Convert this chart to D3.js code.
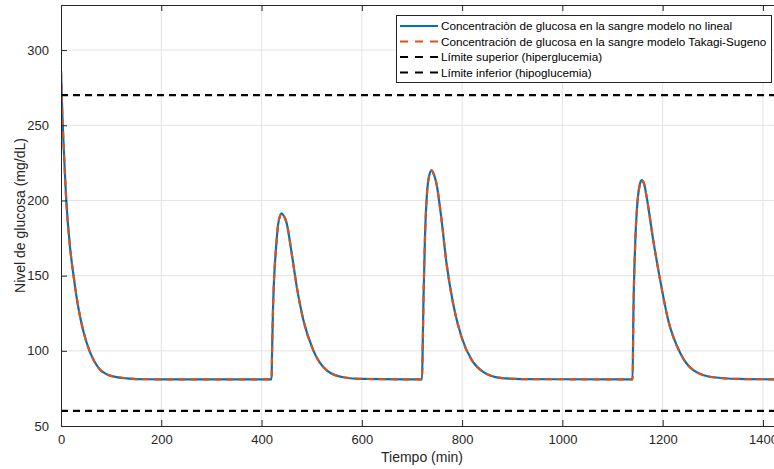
<!DOCTYPE html>
<html>
<head>
<meta charset="utf-8">
<script src="https://cdn.jsdelivr.net/npm/d3@7"></script>
<style>
  html, body { margin: 0; padding: 0; background: #fff; }
  svg { display: block; font-family: "Liberation Sans", Arial, Helvetica, sans-serif; }
</style>
</head>
<body>
<div id="chart"></div>
<script>
// --- data ---
const timeMin = [
  0, 3, 6, 10, 18, 25, 35, 45, 58, 74, 98, 130, 170, 250, 420,
  421, 423, 425, 429, 433, 437, 440, 444, 450, 460, 470, 483, 503, 530, 563, 600, 720,
  721.5, 723, 726, 730, 734, 739, 744, 749, 759, 769, 782, 799, 819, 842, 876, 920, 1140,
  1141.5, 1145, 1150, 1154, 1158, 1163, 1168, 1181, 1195, 1211, 1235, 1261, 1301, 1350, 1440
];

const glucoseNonlinear = [
  286, 254, 231, 203, 169, 150, 128, 112.5, 99, 89, 83.5, 81.7, 81.1, 81, 81,
  100, 130, 148, 169, 184, 190, 191.5, 190, 185, 165, 143, 121, 100.5, 87, 82.4, 81.3, 81,
  105, 135, 176, 205, 216, 220, 217, 211, 187, 158, 131.5, 109, 94, 86, 82, 81.2, 81,
  122, 169, 200, 210, 213.5, 211, 202.5, 174, 147, 120.5, 98.5, 87.2, 82.4, 81.3, 81
];

// Takagi-Sugeno model overlaps the nonlinear one at this resolution
const glucoseTakagiSugeno = [
  286, 254, 231, 203, 169, 150, 128, 112.5, 99, 89, 83.5, 81.7, 81.1, 81, 81,
  100, 130, 148, 169, 184, 190, 191.5, 190, 185, 165, 143, 121, 100.5, 87, 82.4, 81.3, 81,
  105, 135, 176, 205, 216, 220, 217, 211, 187, 158, 131.5, 109, 94, 86, 82, 81.2, 81,
  122, 169, 200, 210, 213.5, 211, 202.5, 174, 147, 120.5, 98.5, 87.2, 82.4, 81.3, 81
];

const upperLimit = 270; // hiperglucemia
const lowerLimit = 60;  // hipoglucemia

const xTicks = [0, 200, 400, 600, 800, 1000, 1200, 1400];
const yTicks = [50, 100, 150, 200, 250, 300];

const legendLabels = [
  "Concentraciòn de glucosa en la sangre modelo no lineal",
  "Concentración de glucosa en la sangre modelo Takagi-Sugeno",
  "Límite superior (hiperglucemia)",
  "Límite inferior (hipoglucemia)"
];

// --- layout ---
const W = 774, H = 469;
const plot = { left: 61, top: 5, right: 783, bottom: 426 }; // right edge falls outside the image

const COLORS = {
  nonlinear: "#0072BD",
  ts: "#D95319",
  limit: "#000000",
  axis: "#262626",
  grid: "#e3e3e3",
};

const svg = d3.select("#chart").append("svg")
  .attr("width", W)
  .attr("height", H);

const x = d3.scaleLinear().domain([0, 1440]).range([plot.left, plot.right]);
const y = d3.scaleLinear().domain([50, 330]).range([plot.bottom, plot.top]);

svg.append("clipPath").attr("id", "plot-clip")
  .append("rect")
  .attr("x", plot.left)
  .attr("y", plot.top)
  .attr("width", plot.right - plot.left)
  .attr("height", plot.bottom - plot.top);

// grid
const grid = svg.append("g").attr("class", "grid");
grid.selectAll("line.gx")
  .data(xTicks.filter((d) => d > 0))
  .join("line")
  .attr("x1", (d) => x(d)).attr("x2", (d) => x(d))
  .attr("y1", plot.top).attr("y2", plot.bottom)
  .attr("stroke", COLORS.grid).attr("stroke-width", 1);
grid.selectAll("line.gy")
  .data(yTicks.filter((d) => d > 50))
  .join("line")
  .attr("x1", plot.left).attr("x2", plot.right)
  .attr("y1", (d) => y(d)).attr("y2", (d) => y(d))
  .attr("stroke", COLORS.grid).attr("stroke-width", 1);

// --- series ---
const series = svg.append("g").attr("clip-path", "url(#plot-clip)");
const pts = (vals) => timeMin.map((t, i) => [t, vals[i]]);
const line = d3.line()
  .x((d) => x(d[0]))
  .y((d) => y(d[1]))
  .curve(d3.curveMonotoneX);

series.append("path")
  .datum(pts(glucoseNonlinear))
  .attr("d", line)
  .attr("fill", "none")
  .attr("stroke", COLORS.nonlinear)
  .attr("stroke-width", 2.2);

series.append("path")
  .datum(pts(glucoseTakagiSugeno))
  .attr("d", line)
  .attr("fill", "none")
  .attr("stroke", COLORS.ts)
  .attr("stroke-width", 2.2)
  .attr("stroke-dasharray", "7,5");

for (const lim of [upperLimit, lowerLimit]) {
  series.append("line")
    .attr("x1", x(0)).attr("x2", x(1440))
    .attr("y1", y(lim)).attr("y2", y(lim))
    .attr("stroke", COLORS.limit)
    .attr("stroke-width", 2.2)
    .attr("stroke-dasharray", "7,5");
}

// --- axes (MATLAB style: ticks inward) ---
const styleAxis = (sel) => {
  sel.select(".domain").remove();
  sel.selectAll("line").attr("stroke", COLORS.axis);
  sel.selectAll("text")
    .attr("fill", COLORS.axis)
    .attr("font-size", 13)
    .attr("font-family", "Liberation Sans, Arial, sans-serif");
};

svg.append("g")
  .attr("transform", `translate(0,${plot.bottom})`)
  .call(d3.axisBottom(x).tickValues(xTicks).tickSize(-6).tickPadding(9).tickFormat(d3.format("d")))
  .call(styleAxis);

svg.append("g")
  .attr("transform", `translate(0,${plot.top})`)
  .call(d3.axisTop(x).tickValues(xTicks).tickSize(-6).tickFormat(""))
  .call(styleAxis);

svg.append("g")
  .attr("transform", `translate(${plot.left},0)`)
  .call(d3.axisLeft(y).tickValues(yTicks).tickSize(-6).tickPadding(12))
  .call(styleAxis);

// box (left, top, bottom; right side is outside the picture)
svg.append("path")
  .attr("d", `M${plot.right},${plot.top + 0.5}H${plot.left + 0.5}V${plot.bottom + 0.5}H${plot.right}`)
  .attr("fill", "none")
  .attr("stroke", COLORS.axis)
  .attr("stroke-width", 1)
  .attr("shape-rendering", "crispEdges");

// axis titles
svg.append("text")
  .attr("x", x(720))
  .attr("y", 462)
  .attr("text-anchor", "middle")
  .attr("font-size", 14)
  .attr("fill", COLORS.axis)
  .text("Tiempo (min)");

svg.append("text")
  .attr("transform", `translate(25,${(plot.top + plot.bottom) / 2}) rotate(-90)`)
  .attr("text-anchor", "middle")
  .attr("font-size", 14)
  .attr("fill", COLORS.axis)
  .text("Nivel de glucosa (mg/dL)");

// --- legend ---
const legend = svg.append("g").attr("transform", "translate(396,15)");
legend.append("rect")
  .attr("x", 0.5).attr("y", 0.5)
  .attr("width", 375).attr("height", 67)
  .attr("fill", "#fff")
  .attr("stroke", COLORS.axis)
  .attr("stroke-width", 1);

const legendItems = [
  { color: COLORS.nonlinear, dash: null },
  { color: COLORS.ts, dash: "8,7" },
  { color: COLORS.limit, dash: "8,7" },
  { color: COLORS.limit, dash: "8,7" },
];

legendItems.forEach((it, i) => {
  const ly = 11 + i * 15.5;
  legend.append("line")
    .attr("x1", 4).attr("x2", 42)
    .attr("y1", ly).attr("y2", ly)
    .attr("stroke", it.color)
    .attr("stroke-width", 2.2)
    .attr("stroke-dasharray", it.dash);
  legend.append("text")
    .attr("x", 45)
    .attr("y", ly + 4)
    .attr("font-size", 11.7)
    .attr("fill", "#000")
    .text(legendLabels[i]);
});
</script>
</body>
</html>
